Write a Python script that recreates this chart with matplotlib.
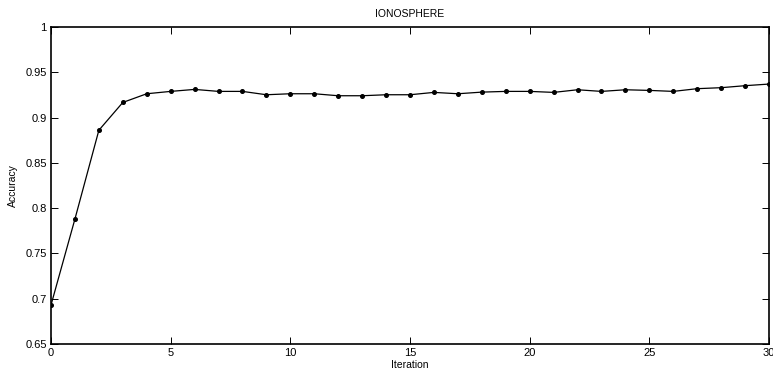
import numpy as np
import matplotlib
matplotlib.use('Agg')
import matplotlib.pyplot as plt

plt.rcParams['font.family'] = ['Liberation Sans', 'DejaVu Sans']

# accuracy per iteration
iterations = list(range(31))
accuracy = [0.693, 0.788, 0.886, 0.9167, 0.9263, 0.9289, 0.9311, 0.9289, 0.9289, 0.9252,
            0.9263, 0.9263, 0.9241, 0.9241, 0.9252, 0.9252, 0.9278, 0.9263, 0.9281, 0.9289,
            0.9289, 0.9278, 0.9307, 0.9289, 0.9307, 0.9300, 0.9289, 0.9319, 0.9330, 0.9352,
            0.9370]
x_ticks = [0, 5, 10, 15, 20, 25, 30]
y_ticks = [0.65, 0.7, 0.75, 0.8, 0.85, 0.9, 0.95, 1]
y_labels = ['0.65', '0.7', '0.75', '0.8', '0.85', '0.9', '0.95', '1']

fig = plt.figure(figsize=(7.73, 3.78), dpi=100)
ax = fig.add_axes([51 / 773, 1 - 344 / 378, 718 / 773, 317 / 378])

ax.plot(iterations, accuracy, color='black', linewidth=0.9,
        marker='o', markersize=2.6)

ax.set_xlim(0, 30)
ax.set_ylim(0.65, 1)
ax.set_xticks(x_ticks)
ax.set_yticks(y_ticks)
ax.set_yticklabels(y_labels)
ax.tick_params(direction='in', top=True, right=True, length=5, width=0.7,
               labelsize=8, pad=3)
for s in ax.spines.values():
    s.set_linewidth(1.2)

ax.set_xlabel('Iteration', fontsize=7.5, labelpad=1)
ax.set_ylabel('Accuracy', fontsize=7.5, labelpad=5)
ax.set_title('IONOSPHERE', fontsize=7.5, pad=7)

fig.savefig('out.png', dpi=100)
plt.close(fig)
